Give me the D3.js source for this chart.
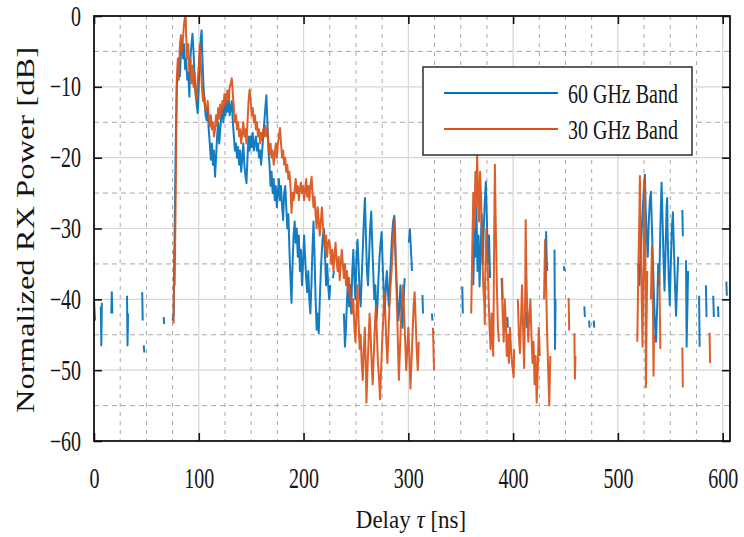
<!DOCTYPE html>
<html>
<head>
<meta charset="utf-8">
<script src="https://cdn.jsdelivr.net/npm/d3@7"></script>
<style>
  body { margin: 0; background: #fff; }
  text { font-family: "Liberation Serif", "DejaVu Serif", serif; fill: #151515; }
</style>
</head>
<body>
<svg width="744" height="537"></svg>
<script>
// ---- data: [delay ns, power dB], null = gap ----
var band60 = [
  [0,-40],[1,-43],null,
  [6.5,-41],[7,-46.5],[7.5,-40.5],null,
  [16.5,-42],[17,-39],[17.5,-42],null,
  [31.5,-39.5],[32,-46.5],[32.5,-42],null,
  [46,-39],[46.5,-43],null,[47.5,-46.5],[48,-47.5],null,
  [66.5,-42.5],[67,-43.5],null,
  [75,-43],[76,-42],[77,-30],[78,-18],[79,-10],[80,-8],[81,-6],[82,-8.5],[83,-5],[84,-3.4],[85,-6],[86,-4],
  [87,-7.5],[88,-6],[89,-9],[90,-8],[91,-11.4],[92,-6],[93,-4],[94,-2.5],[95,-5],[96,-9],[97,-11],[98,-12.5],
  [99,-13.7],[100,-10],[101,-6],[102,-3],[102.7,-2],[103.5,-6],[104.5,-10],[105.5,-12],[106.5,-14],[107.5,-14.7],
  [108.5,-13],[109.5,-16],[110.5,-18],[111.5,-20.3],[112.5,-18],[113.5,-21],[114.5,-19],[115.5,-22.7],[116.5,-20],
  [117.5,-17],[118.5,-15],[119.5,-18],[120.5,-16],[121.5,-14],[122.5,-13],[123.5,-15],[124.5,-12.5],[125.5,-14],
  [126.5,-12],[127.5,-13.5],[128.5,-11.5],[129.5,-14],[130.5,-13],[131.5,-12],[132.5,-15],[133.5,-17],[134.5,-19],
  [135.5,-18],[136.5,-20],[137.5,-18.5],[138.5,-21],[139.5,-19],[140.5,-22],[141.5,-20],[142.5,-18],[143.5,-21],
  [144.5,-22.5],[145.5,-23.6],[146.5,-20],[147.5,-17],[148.5,-19],[149.5,-17],[150.5,-18.5],[151.5,-16.5],
  [152.5,-19],[153.5,-18],[154.5,-17],[155.5,-19],[156.5,-18],[157.5,-20],[158.5,-19],[159.5,-21],[160.5,-19],
  [161.5,-17],[162.5,-15],[163.5,-13],[164.5,-11.2],[165.5,-15],[166.5,-19],[167.5,-21],[168.5,-24],[169.5,-22],
  [170.5,-25],[171.5,-23],[172.5,-26],[173.5,-24],[174.5,-27],[175.5,-25],[176.5,-23],[177.5,-26],[178.5,-24],
  [179.5,-27],[180.5,-28.8],[181.5,-25],[182.5,-24],[183.5,-27],[184.5,-30],[185.5,-28],[186.5,-33],[187.5,-37],
  [188.5,-40.5],[189.5,-35],[190.5,-31],[191.5,-29],[192.5,-32],[193.5,-30],[194.5,-34],[195.5,-31],[196.5,-36],
  [197.5,-33],[198.5,-38],[199.5,-35],[200.5,-31],[201.5,-34],[202.5,-37],[203.5,-39],[204.5,-36],[205.5,-40],
  [206.5,-42],[207.5,-38],[208.5,-33],[209.5,-29],[210.5,-34],[211.5,-40],[212.5,-44.3],[213.5,-42],[214.5,-44.8],
  [215.5,-40],[216.5,-36],[217.5,-33],[218.5,-31],[219.5,-30.1],[220.5,-34],[221.5,-38],[222.5,-35],[223.5,-38],
  [224.5,-40],[225.5,-38],null,[228,-37],[229,-36],null,
  [238.5,-42],[239.5,-46.7],[240.5,-44],[241.5,-40],[242.5,-37],[243.5,-41],[244.5,-38],[245.5,-42],[246.5,-36],
  [247.5,-33],[248.5,-37],[249.5,-40],[250.5,-34],[251.5,-31.6],[252.5,-35],[253.5,-39],[254.5,-41],[255.5,-37],
  [256.5,-33],[257.5,-29],[258.6,-25.7],[259.5,-31],[260.5,-36],[261.5,-38],[262.5,-34],[263.5,-30],[264.6,-27.6],
  [265.5,-32],[266.5,-36],[267.5,-40],[268.5,-38],[269.5,-43],[270.5,-41],[271.5,-37],[272.5,-34],[273.5,-32],
  [274.5,-30.5],[275.5,-35],[276.5,-39],[277.5,-42],[278.5,-38],[279.5,-36],[280.5,-39],[281.5,-41],[282.5,-37],
  [283.5,-34],[284.5,-31],[285.5,-29],[286.6,-28.2],[287.5,-33],[288.5,-37],[289.5,-40],[290.5,-43],[291.5,-41],
  [292.5,-38],[293.5,-42],[294.5,-44],[295.5,-40],[296.5,-37],null,
  [300.5,-32],[301.5,-30.1],[302.5,-33],[303.5,-36],null,
  [313.5,-39.4],[314,-42],null,[322.5,-42],[323,-43],null,
  [351.5,-38.2],[352,-42],null,
  [362,-38],[363,-30],[364,-34],[365,-27],[366,-36],[367,-31],[368,-38.2],[369,-33],[370,-28],[371,-35],
  [372,-30],[373,-26],[374,-23.4],[375,-29],[376,-35],[377,-31],[378,-37],null,
  [389.5,-37],[390,-40],null,[394.5,-42.5],[395,-44],null,[412.5,-41.7],[413,-44],null,
  [431,-37.7],[431.5,-30.5],[432,-34],[432.5,-36],null,[439.5,-33],[440,-47],[440.5,-40],null,
  [448.5,-35.3],[449,-36],null,[468,-41],[468.5,-42.5],null,[472.5,-43],[473,-44],null,[477,-43],[477.5,-44],null,
  [519.5,-35],[520.5,-38],[521.5,-34],[522.5,-31],[523.5,-28],[524.5,-25],[525.8,-22.4],[526.5,-27],[527.5,-31],
  [528.5,-34],[529.5,-29],[530.5,-26],[531.5,-24.8],[532.5,-30],[533.5,-35],[534.5,-40],[535.5,-44],[536.4,-46],
  [537.5,-41],[538.5,-35],[539.5,-38],[540.5,-30],[541.7,-23.5],[542.5,-28],[543.5,-34],[544.5,-38.8],[545.5,-33],
  [546.5,-27],[547,-25.7],[547.5,-31],[548.5,-37],[549.5,-40.8],[550.5,-35],[551.5,-30],[552.5,-27.7],[553.5,-33],
  [554.5,-38],[555.5,-42.3],[556.5,-38],[557.5,-34],null,
  [561.5,-27.4],[562,-31.1],null,[565,-34.5],[565.6,-46.7],[566.5,-40],[567,-36],null,
  [577.5,-39.5],[578,-46.7],null,[584,-38],[584.6,-42.5],null,[591,-39.5],[591.6,-42.5],null,
  [595.5,-41],[596,-42.5],null,[603.5,-37.5],[604,-39.5]
];

var band30 = [
  [76,-43.4],[76.5,-33],[77,-38],[78,-25],[79,-8.8],[80,-6],[81,-9],[82,-4],[83,-2.7],[84,-5],[85,-3],[86,-1],
  [87,0],[87.5,0],[88,-3],[89,-6],[90,-4],[91,-8],[92,-6],[93,-9.5],[94,-7],[95,-10],[96,-8],[97,-11],[98,-11.9],
  [99,-9],[100,-7],[101,-4],[102,-7],[103,-10],[104,-12],[105,-11],[106,-13],[107.5,-13.3],[108.5,-12],[109.5,-14],
  [110.5,-15.6],[111.5,-14],[112.5,-16],[113.5,-15],[114.5,-17],[115.5,-16],[116.5,-14],[117.5,-15.5],[118.5,-13],
  [119.5,-14.5],[120.5,-12.5],[121.5,-14],[122.5,-12],[123.5,-13],[124.5,-11],[125.5,-12.5],[126.5,-11],
  [127.5,-10.5],[128.5,-12],[129.5,-10],[130.5,-9.5],[131.5,-8.8],[132.5,-11],[133.5,-13],[134.5,-15],[135.5,-14],
  [136.5,-16],[137.5,-15],[138.5,-17],[139.5,-16],[140.5,-18],[141.5,-16.5],[142.5,-15],[143.5,-17],[144.5,-16],
  [145.5,-18],[146.5,-15],[147.5,-12],[148.5,-10.4],[149.5,-12],[150.5,-14],[151.5,-13],[152.5,-15],[153.5,-14],
  [154.5,-16],[155.5,-15],[156.5,-17],[157.5,-16],[158.5,-18],[159.5,-16.5],[160.5,-17.5],[161.5,-16],[162.5,-17],
  [163.5,-15.5],[164.5,-17],[165.5,-16],[166.5,-18],[167.5,-19.5],[168.5,-18],[169.5,-20],[170.5,-19],[171.5,-21],
  [172.5,-19.5],[173.5,-18],[174.5,-20],[175.5,-18],[176.5,-17],[177.5,-15.8],[178.5,-18],[179.5,-20],[180.5,-19],
  [181.5,-21],[182.5,-20],[183.5,-22],[184.5,-21],[185.5,-23],[186.5,-22],[187.5,-24],[188.5,-27.8],[189.5,-25],
  [190.5,-26],[191.5,-24.5],[192.5,-23],[193.5,-25],[194.5,-24],[195.5,-26],[196.5,-24.5],[197.5,-23.5],[198.5,-25],
  [199.5,-24],[200.5,-26],[201.5,-24.5],[202.5,-23],[203.5,-25.5],[204.5,-24],[205.5,-26],[206.5,-24],[207.7,-22.7],
  [208.5,-25],[209.5,-27],[210.5,-25.5],[211.5,-28],[212.5,-30],[213.5,-27],[214.5,-29],[215.5,-31],[216.5,-29],
  [217.5,-27],[218.5,-29.5],[219.5,-31],[220.5,-33],[221.5,-31],[222.5,-34],[223.5,-32],[224.5,-31.6],[225.5,-33],
  [226.5,-35],[227.5,-33],[228.5,-36],[229.5,-34],[230.5,-32],[231.5,-34.5],[232.5,-36],[233.5,-34],[234.5,-37.3],
  [235.5,-35],[236.5,-33],[237.5,-35],[238.5,-37],[239.5,-35],[240.5,-38],[241.5,-36],[242.5,-39],[243.5,-37],
  [244.5,-40],[245.5,-39.7],[246.5,-42],[247.5,-40],[248.5,-44],[249.5,-46],[250.5,-42],[251.5,-38],[252.5,-43],
  [253.5,-47],[254.5,-45],[255.5,-49],[256.5,-51.4],[257.5,-47],[258.5,-44],[259.5,-50],[260,-54.6],[261,-50],
  [262,-46],[263,-42],[264,-45],[265,-49],[266,-52],[267,-48],[268,-44],[269,-41],[270,-45],[271,-49],[272,-51],
  [273,-54.1],[274,-50],[275,-46],[276,-43],[277,-39],[278,-42],[279,-46],[280,-49],[281,-45],[282,-41],[283,-38],
  [284,-36],[285,-33],[286,-30],[287,-28.7],[288,-34],[289,-40],[290,-46],[291,-51.4],[292,-47],[293,-43],[294,-40],
  [295,-38],[296,-42],[297,-46],[298,-50],[299,-47],[300,-44],[301,-48],[302,-52.6],[303,-49],[304,-45],[305,-41],
  [306,-39],[307,-43],[308,-47],[309,-50],[310,-46],null,
  [323.5,-44],[324.5,-50],null,
  [360,-42],[361,-33],[362,-25],[363,-30],[364,-22],[365,-27],[365.6,-19.4],[366.5,-24],[367.5,-29],[368.5,-22],
  [369.5,-26],[370.5,-33],[371.5,-38],[372.5,-40.5],[373,-43.5],[373.5,-36],[374.5,-30],[375.5,-34],[376.5,-39],
  [377.5,-44],[378.5,-47],[379.5,-42],[380.5,-46],[381,-48],[381.5,-40],[382,-30],[382.6,-21],[383.5,-30],
  [384.5,-38],[385.5,-44],[386.5,-46],null,
  [389,-37],[390,-42],[391,-46],[392,-40],[393,-43],[394,-48],[395,-45],[396,-49],[397,-44],[398,-47],[399,-49],
  [400.5,-51],[401,-47],null,
  [404.5,-40],[405.5,-45],[406.5,-47.6],[407.5,-43],[408.5,-38],[409.5,-44],[410.5,-49.7],[411.5,-40],[412,-28.8],
  [412.5,-35],[413.5,-42],[414.5,-46],[415.5,-42],[416.5,-40],[417.5,-45],[418.5,-49],[419.5,-46],[420.5,-52],
  [421.5,-48],[422.5,-54.6],[423.5,-50],[424.5,-44],[425.5,-48],null,
  [429.5,-40],[430.5,-31.6],[431.5,-38],[432.5,-45],[433.5,-50],[434.5,-55],[435.5,-48],null,
  [453,-39.8],[453.5,-44.4],null,[458.5,-44.8],[459,-51.2],[459.5,-48],null,
  [518.5,-46],[519.5,-36],[520.5,-28],[521,-22.6],[521.5,-30],[522.5,-38],[523.5,-46.7],[524.5,-35],[525.3,-23],
  [525.8,-24],[526.3,-36],[526.8,-52.4],[527.3,-44],[528,-36],null,
  [531.5,-40],[532.5,-32.5],[533.5,-42],[534,-50.8],[534.5,-45],null,
  [539.5,-36.3],[540,-41],[540.5,-47],null,
  [561.5,-46.8],[562,-52.4],null,[587.5,-44.7],[588,-49]
];

var xTicks = [0, 100, 200, 300, 400, 500, 600];
var yTicks = [0, -10, -20, -30, -40, -50, -60];
var seriesNames = ["60 GHz Band", "30 GHz Band"];
var seriesColors = ["#0072BD", "#D95319"];

// ---- layout ----
var svg = d3.select("svg");
var plotL = 94, plotR = 730, plotT = 16, plotB = 441;
var stretch = 1.42; // glyphs in the reference are taller than wide

var x = d3.scaleLinear().domain([0, 607]).range([plotL, plotR]);
var y = d3.scaleLinear().domain([-60, 0]).range([plotB, plotT]);

// minor dashed grid
var minorX = d3.range(25, 607, 25).filter(function (d) { return d % 100 !== 0; });
var minorY = d3.range(-55, 0, 5).filter(function (d) { return d % 10 !== 0; });

svg.append("g").selectAll("line").data(minorX).enter().append("line")
  .attr("x1", function (d) { return x(d); }).attr("x2", function (d) { return x(d); })
  .attr("y1", plotT).attr("y2", plotB)
  .attr("stroke", "#a8a8a8").attr("stroke-width", 1).attr("stroke-dasharray", "4,5");
svg.append("g").selectAll("line").data(minorY).enter().append("line")
  .attr("y1", function (d) { return y(d); }).attr("y2", function (d) { return y(d); })
  .attr("x1", plotL).attr("x2", plotR)
  .attr("stroke", "#a8a8a8").attr("stroke-width", 1).attr("stroke-dasharray", "5,4");

// major solid grid
svg.append("g").selectAll("line").data(xTicks.slice(1)).enter().append("line")
  .attr("x1", function (d) { return x(d); }).attr("x2", function (d) { return x(d); })
  .attr("y1", plotT).attr("y2", plotB)
  .attr("stroke", "#d6d6d6").attr("stroke-width", 1.2);
svg.append("g").selectAll("line").data(yTicks.slice(1, -1)).enter().append("line")
  .attr("y1", function (d) { return y(d); }).attr("y2", function (d) { return y(d); })
  .attr("x1", plotL).attr("x2", plotR)
  .attr("stroke", "#d6d6d6").attr("stroke-width", 1.2);

// ---- lines ----
svg.append("clipPath").attr("id", "clip").append("rect")
  .attr("x", plotL).attr("y", plotT - 2).attr("width", plotR - plotL).attr("height", plotB - plotT + 2);

var line = d3.line()
  .defined(function (d) { return d !== null; })
  .x(function (d) { return x(d[0]); })
  .y(function (d) { return y(d[1]); });

var plot = svg.append("g").attr("clip-path", "url(#clip)");
[band60, band30].forEach(function (s, i) {
  plot.append("path").datum(s)
    .attr("d", line)
    .attr("fill", "none")
    .attr("stroke", seriesColors[i])
    .attr("stroke-width", 2)
    .attr("stroke-linejoin", "round")
    .attr("stroke-opacity", 0.92);
});

// ---- axes ----
var xAxis = svg.append("g").attr("transform", "translate(0," + plotB + ")")
  .call(d3.axisBottom(x).tickValues(xTicks).tickSize(-8).tickPadding(0));
var xTop = svg.append("g").attr("transform", "translate(0," + plotT + ")")
  .call(d3.axisTop(x).tickValues(xTicks).tickSize(-8).tickFormat(""));
var yAxis = svg.append("g").attr("transform", "translate(" + plotL + ",0)")
  .call(d3.axisLeft(y).tickValues(yTicks).tickSize(-8).tickPadding(0));
var yRight = svg.append("g").attr("transform", "translate(" + plotR + ",0)")
  .call(d3.axisRight(y).tickValues(yTicks).tickSize(-8).tickFormat(""));

[xAxis, xTop, yAxis, yRight].forEach(function (g) {
  g.select(".domain").remove();
  g.selectAll(".tick line").attr("stroke", "#111").attr("stroke-width", 1.6);
});

xAxis.selectAll(".tick text")
  .attr("y", null).attr("dy", null)
  .attr("font-size", 20)
  .attr("transform", "translate(0,47) scale(1," + stretch + ")");

yAxis.selectAll(".tick text")
  .attr("x", null).attr("dy", null)
  .attr("font-size", 20)
  .attr("transform", "translate(-13,9) scale(1," + stretch + ")");

// frame
svg.append("rect")
  .attr("x", plotL).attr("y", plotT).attr("width", plotR - plotL).attr("height", plotB - plotT)
  .attr("fill", "none").attr("stroke", "#111").attr("stroke-width", 1.8);

// axis titles
var xt = svg.append("text")
  .attr("text-anchor", "middle")
  .attr("font-size", 23)
  .attr("transform", "translate(411,528) scale(1,1.12)");
xt.append("tspan").text("Delay ");
xt.append("tspan").attr("font-style", "italic").text("\u03C4");
xt.append("tspan").text(" [ns]");

svg.append("text")
  .attr("text-anchor", "middle")
  .attr("font-size", 25)
  .attr("textLength", 366)
  .attr("lengthAdjust", "spacingAndGlyphs")
  .attr("transform", "translate(34,230) rotate(-90)")
  .text("Normalized RX Power [dB]");

// ---- legend ----
var legend = svg.append("g");
legend.append("rect")
  .attr("x", 423).attr("y", 67).attr("width", 269).attr("height", 88)
  .attr("fill", "#fff").attr("stroke", "#3a3a3a").attr("stroke-width", 1.6);
seriesNames.forEach(function (name, i) {
  var ly = 93 + i * 36;
  legend.append("line")
    .attr("x1", 444).attr("x2", 558).attr("y1", ly).attr("y2", ly)
    .attr("stroke", seriesColors[i]).attr("stroke-width", 1.8);
  legend.append("text")
    .attr("font-size", 20)
    .attr("transform", "translate(568," + (ly + 10) + ") scale(1,1.35)")
    .text(name);
});
</script>
</body>
</html>
